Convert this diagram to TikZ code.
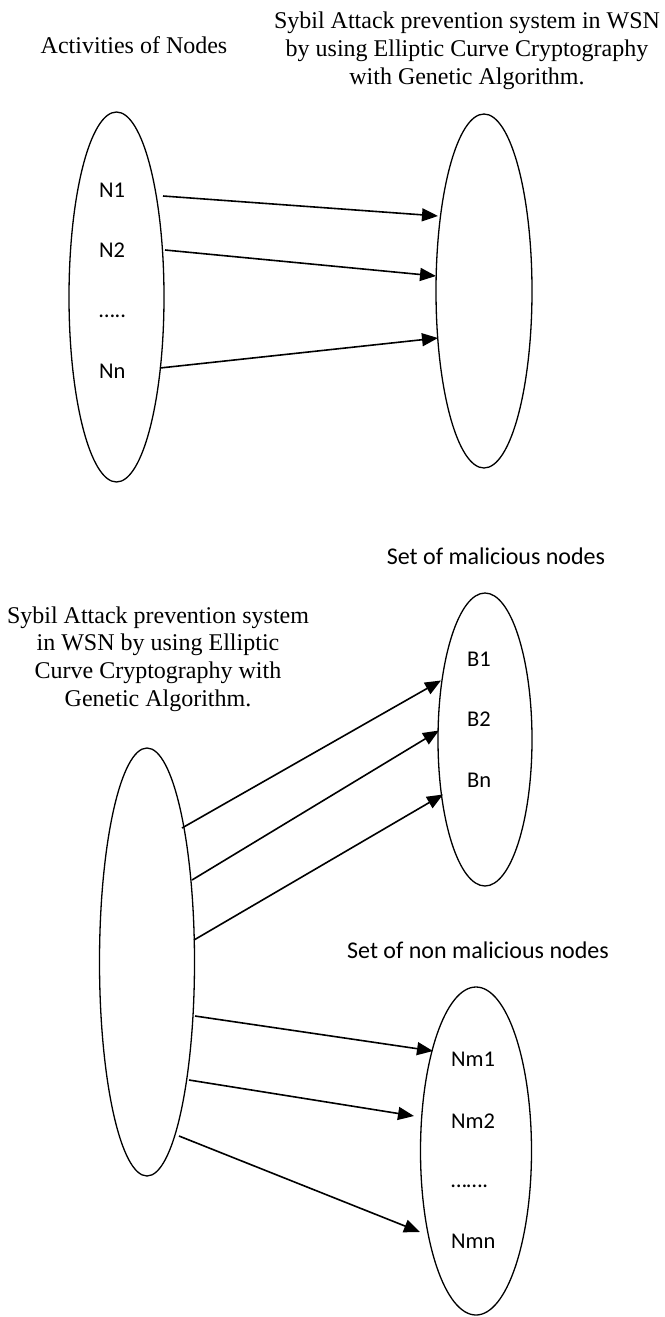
\documentclass[tikz,border=0pt]{standalone}
\usepackage{fontspec}
\usetikzlibrary{shapes.geometric,arrows.meta,calc}
\newfontfamily\serifface{Liberation Serif}
\newfontfamily\sansface{Carlito}
\begin{document}
\begin{tikzpicture}[x=1pt,y=-1pt,
  oval/.style={ellipse,draw,line width=1.3pt,inner sep=0pt},
  flow/.style={line width=1.6pt,-{Triangle[length=16pt,width=13pt]}},
  caption/.style={font=\serifface\fontsize{24}{27.6}\selectfont,align=center,inner sep=0pt,anchor=base},
  item/.style={font=\sansface\fontsize{22.5}{27}\selectfont,inner sep=0pt,anchor=base west},
  heading/.style={font=\sansface\fontsize{24}{28}\selectfont,inner sep=0pt,anchor=base}]
\fill[white] (0,0) rectangle (664,1317);
\useasboundingbox (0,0) rectangle (664,1317);

% ---- upper diagram ----
% multi-line captions are anchored at the baseline of their last line
\node[caption] (acttitle) at (134,53) {Activities of Nodes};
\node[caption] (ecctitle) at (467,84) {Sybil Attack prevention system in WSN\\by using Elliptic Curve Cryptography\\with Genetic Algorithm.};

\node[oval,minimum width=95pt,minimum height=370pt] (src) at (116.5,297) {};
\node[oval,minimum width=96pt,minimum height=354pt] (ecc) at (484,291) {};

\node[item] (n1) at (99,197) {N1};
\node[item] (n2) at (99,257) {N2};
\node[item] (ndots) at (99,317) {…..};
\node[item] (nn) at (99,378) {Nn};

\draw[flow] ($(src)+(46.5,-101)$) -- ($(ecc)+(-46,-75)$);
\draw[flow] ($(src)+(48.5,-47)$) -- ($(ecc)+(-48,-15)$);
\draw[flow] ($(src)+(43.5,71)$) -- ($(ecc)+(-46,47)$);

% ---- lower diagram ----
\node[caption] (ecctitle2) at (158,706) {Sybil Attack prevention system\\in WSN by using Elliptic\\Curve Cryptography with\\Genetic Algorithm.};
\node[heading] (maltitle) at (496,564) {Set of malicious nodes};
\node[heading] (goodtitle) at (478,958) {Set of non malicious nodes};

\node[oval,minimum width=95pt,minimum height=428pt] (ecc2) at (147,962) {};
\node[oval,minimum width=94pt,minimum height=293pt] (mal) at (485,739.5) {};
\node[oval,minimum width=111pt,minimum height=328pt] (good) at (476,1151) {};

\node[item] (b1) at (467,666) {B1};
\node[item] (b2) at (467,726) {B2};
\node[item] (bn) at (467,787) {Bn};

\node[item] (m1) at (451,1066) {Nm1};
\node[item] (m2) at (451,1128) {Nm2};
\node[item] (mdots) at (451,1187) {…….};
\node[item] (mn) at (451,1248) {Nmn};

\draw[flow] ($(ecc2)+(35,-134)$) -- ($(mal)+(-44,-59)$);
\draw[flow] ($(ecc2)+(45,-82)$) -- ($(mal)+(-46,-9)$);
\draw[flow] ($(ecc2)+(47,-22)$) -- ($(mal)+(-42,55)$);

\draw[flow] ($(ecc2)+(48,54)$) -- ($(good)+(-43,-100)$);
\draw[flow] ($(ecc2)+(42,118)$) -- ($(good)+(-62,-35)$);
\draw[flow] ($(ecc2)+(32,174)$) -- ($(good)+(-56,81)$);
\end{tikzpicture}
\end{document}
